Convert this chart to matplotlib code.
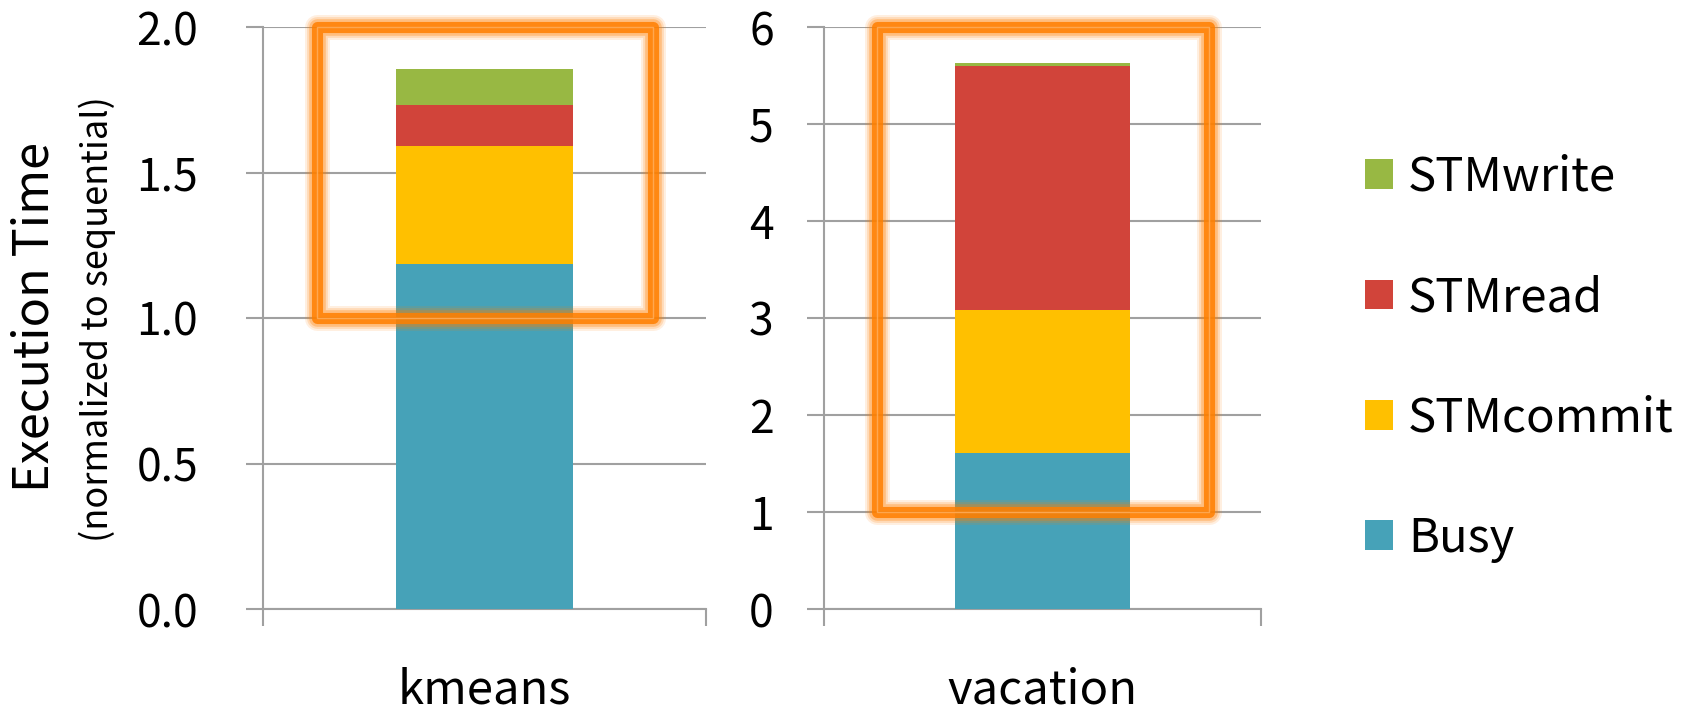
import matplotlib
matplotlib.use("Agg")
import matplotlib.pyplot as plt
import numpy as np
from matplotlib.patches import Patch, Rectangle

plt.rcParams['font.family'] = ['Noto Sans CJK JP', 'DejaVu Sans']

# data
benchmarks = ["kmeans", "vacation"]
components = ["Busy", "STMcommit", "STMread", "STMwrite"]
busy = [1.184, 1.606]
stm_commit = [0.406, 1.473]
stm_read = [0.141, 2.517]
stm_write = [0.126, 0.032]
colors = ["#46A2B8", "#FFC000", "#D1443A", "#98B843"]

y_limits = [2.0, 6.0]
y_steps = [0.5, 1.0]
y_formats = ["{:.1f}", "{:.0f}"]
highlight_low = [1.0, 1.0]   # lower edge of the orange highlight box
label_pads = [34.5, 24.0]

grey = "#A0A0A0"
W, H = 1682, 712
fig = plt.figure(figsize=(W / 100, H / 100), dpi=100)

panels = [(263, 706), (824, 1261)]
top_px, bottom_px = 27, 609

series = [busy, stm_commit, stm_read, stm_write]

for i, name in enumerate(benchmarks):
    x0, x1 = panels[i]
    ax = fig.add_axes([x0 / W, 1 - bottom_px / H, (x1 - x0) / W,
                       (bottom_px - top_px) / H])
    bottom = 0.0
    for vals, col in zip(series, colors):
        ax.bar(0, vals[i], width=0.40, bottom=bottom, color=col, zorder=3)
        bottom += vals[i]

    ax.set_xlim(-0.5, 0.5)
    ax.set_ylim(0, y_limits[i])
    ticks = np.arange(0, y_limits[i] + 1e-9, y_steps[i])
    ax.set_yticks(ticks)
    ax.set_yticklabels([y_formats[i].format(t) for t in ticks])
    ax.yaxis.grid(True, color=grey, linewidth=1.5, zorder=0)
    ax.set_axisbelow(True)

    ax.set_xticks([0])
    ax.set_xticklabels([name])
    ax.set_xticks([-0.5, 0.5], minor=True)
    ax.tick_params(axis='x', which='major', length=0, pad=41, labelsize=34)
    ax.tick_params(axis='x', which='minor', length=12.2, width=1.5,
                   color=grey, direction='out')
    ax.tick_params(axis='y', length=12.2, width=1.5, color=grey,
                   direction='out', pad=label_pads[i], labelsize=32)

    for s in ['top', 'right']:
        ax.spines[s].set_visible(False)
    for s in ['left', 'bottom']:
        ax.spines[s].set_color(grey)
        ax.spines[s].set_linewidth(1.5)

    # orange highlight box with a soft glow
    lo, hi = highlight_low[i], y_limits[i]
    for lw, a in [(18, 0.12), (15, 0.18), (12, 0.3)]:
        ax.add_patch(Rectangle((-0.378, lo), 0.758, hi - lo, fill=False,
                               edgecolor="#FF7F00", linewidth=lw, alpha=a,
                               joinstyle='round', clip_on=False, zorder=5))
    ax.add_patch(Rectangle((-0.378, lo), 0.758, hi - lo, fill=False,
                           edgecolor="#FF7F00", linewidth=8, alpha=0.85,
                           joinstyle='round', clip_on=False, zorder=6))
    ax.add_patch(Rectangle((-0.378, lo), 0.758, hi - lo, fill=False,
                           edgecolor="#FFB060", linewidth=1.0, alpha=0.8,
                           joinstyle='round', clip_on=False, zorder=7))

fig.text(35 / W, 1 - 317 / H, "Execution Time", rotation=90,
         ha='center', va='center', fontsize=35)
fig.text(97 / W, 1 - 319 / H, "(normalized to sequential)", rotation=90,
         ha='center', va='center', fontsize=26)

handles = [Patch(facecolor=c, edgecolor='none') for c in colors]
fig.legend(handles[::-1], components[::-1], loc='center left',
           bbox_to_anchor=(1365 / W, 1 - 358 / H), frameon=False,
           fontsize=34, handlelength=0.59, handleheight=0.59,
           handletextpad=0.32, labelspacing=1.52, borderpad=0,
           borderaxespad=0)

fig.savefig("out.png", dpi=100)
